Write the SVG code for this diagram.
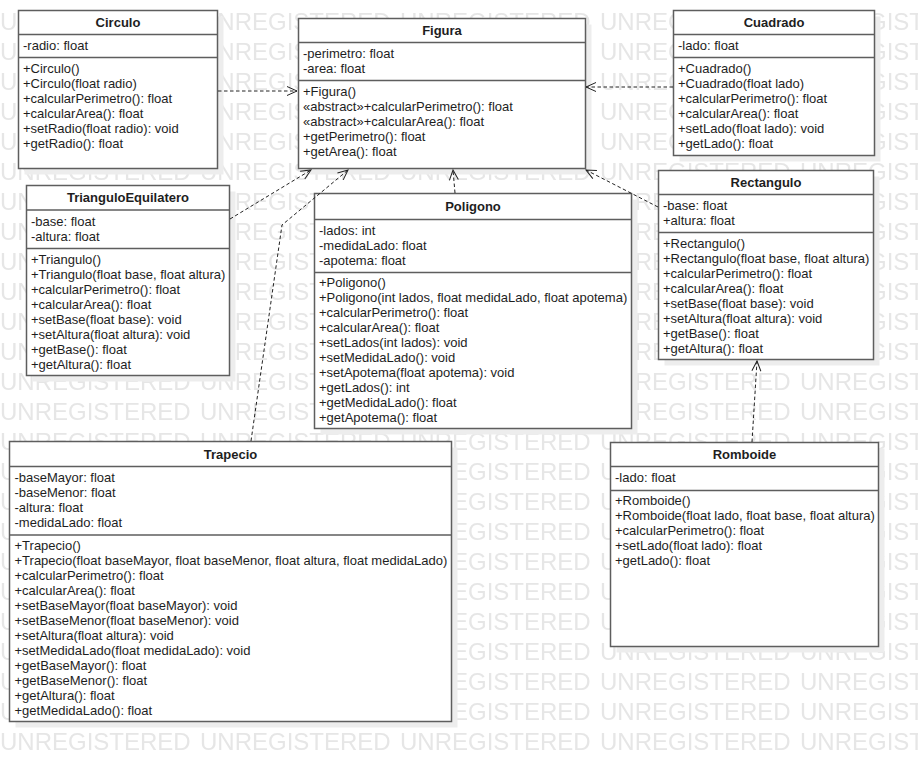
<svg xmlns="http://www.w3.org/2000/svg" width="918" height="762" viewBox="0 0 918 762">
<style>
.wm{font-family:"Liberation Sans",Arial,sans-serif;font-size:24px;fill:#e6e6e6}
.sh{fill:#ededed}
.box{fill:#fff;stroke:#5e5e5e;stroke-width:1.5}
.dv{stroke:#5e5e5e;stroke-width:1.5}
.t{font-family:"Liberation Sans",Arial,sans-serif;font-size:13px;fill:#1e1e1e}
.h{font-weight:bold;text-anchor:middle}
.c{fill:none;stroke:#222;stroke-width:1;stroke-dasharray:3.5 2.5}
</style>
<defs>
<pattern id="wmp" patternUnits="userSpaceOnUse" x="0" y="0" width="200" height="30">
<text class="wm" x="0" y="30">UNREGISTERED</text>
</pattern>
<marker id="arr" markerUnits="userSpaceOnUse" markerWidth="14" markerHeight="12" refX="10" refY="4.5" orient="auto" overflow="visible">
<path d="M0,0 L10,4.5 L0,9" fill="none" stroke="#222" stroke-width="1" stroke-dasharray="none"/>
</marker>
</defs>
<rect x="0" y="0" width="918" height="762" fill="#fff"/>
<rect x="0" y="0" width="918" height="762" fill="url(#wmp)"/>

<g id="Circulo">
<rect class="sh" x="24.5" y="16.5" width="199" height="158"/>
<rect class="box" x="18.5" y="10.5" width="199" height="158"/>
<line class="dv" x1="18.5" y1="34.5" x2="217.5" y2="34.5"/>
<line class="dv" x1="18.5" y1="57.5" x2="217.5" y2="57.5"/>
<text class="t h" x="118" y="27">Circulo</text>
<text class="t" x="23" y="50">-radio: float</text>
<text class="t"><tspan x="23" y="73">+Circulo()</tspan><tspan x="23" dy="15">+Circulo(float radio)</tspan><tspan x="23" dy="15">+calcularPerimetro(): float</tspan><tspan x="23" dy="15">+calcularArea(): float</tspan><tspan x="23" dy="15">+setRadio(float radio): void</tspan><tspan x="23" dy="15">+getRadio(): float</tspan></text>
</g>

<g id="Figura">
<rect class="sh" x="304.5" y="24.5" width="287" height="150"/>
<rect class="box" x="298.5" y="18.5" width="287" height="150"/>
<line class="dv" x1="298.5" y1="42.5" x2="585.5" y2="42.5"/>
<line class="dv" x1="298.5" y1="80.5" x2="585.5" y2="80.5"/>
<text class="t h" x="442" y="35">Figura</text>
<text class="t"><tspan x="303" y="58">-perimetro: float</tspan><tspan x="303" dy="15">-area: float</tspan></text>
<text class="t"><tspan x="303" y="96">+Figura()</tspan><tspan x="303" dy="15">«abstract»+calcularPerimetro(): float</tspan><tspan x="303" dy="15">«abstract»+calcularArea(): float</tspan><tspan x="303" dy="15">+getPerimetro(): float</tspan><tspan x="303" dy="15">+getArea(): float</tspan></text>
</g>

<g id="Cuadrado">
<rect class="sh" x="679.5" y="16.5" width="201" height="145"/>
<rect class="box" x="673.5" y="10.5" width="201" height="145"/>
<line class="dv" x1="673.5" y1="34.5" x2="874.5" y2="34.5"/>
<line class="dv" x1="673.5" y1="57.5" x2="874.5" y2="57.5"/>
<text class="t h" x="774" y="27">Cuadrado</text>
<text class="t" x="678" y="50">-lado: float</text>
<text class="t"><tspan x="678" y="73">+Cuadrado()</tspan><tspan x="678" dy="15">+Cuadrado(float lado)</tspan><tspan x="678" dy="15">+calcularPerimetro(): float</tspan><tspan x="678" dy="15">+calcularArea(): float</tspan><tspan x="678" dy="15">+setLado(float lado): void</tspan><tspan x="678" dy="15">+getLado(): float</tspan></text>
</g>

<g id="Rectangulo">
<rect class="sh" x="664.5" y="176.5" width="215" height="189"/>
<rect class="box" x="658.5" y="170.5" width="215" height="189"/>
<line class="dv" x1="658.5" y1="194.5" x2="873.5" y2="194.5"/>
<line class="dv" x1="658.5" y1="232.5" x2="873.5" y2="232.5"/>
<text class="t h" x="766" y="187">Rectangulo</text>
<text class="t"><tspan x="663" y="210">-base: float</tspan><tspan x="663" dy="15">+altura: float</tspan></text>
<text class="t"><tspan x="663" y="248">+Rectangulo()</tspan><tspan x="663" dy="15">+Rectangulo(float base, float altura)</tspan><tspan x="663" dy="15">+calcularPerimetro(): float</tspan><tspan x="663" dy="15">+calcularArea(): float</tspan><tspan x="663" dy="15">+setBase(float base): void</tspan><tspan x="663" dy="15">+setAltura(float altura): void</tspan><tspan x="663" dy="15">+getBase(): float</tspan><tspan x="663" dy="15">+getAltura(): float</tspan></text>
</g>

<g id="TrianguloEquilatero">
<rect class="sh" x="32.5" y="191.5" width="203" height="190"/>
<rect class="box" x="26.5" y="185.5" width="203" height="190"/>
<line class="dv" x1="26.5" y1="210" x2="229.5" y2="210"/>
<line class="dv" x1="26.5" y1="248.5" x2="229.5" y2="248.5"/>
<text class="t h" x="128" y="202">TrianguloEquilatero</text>
<text class="t"><tspan x="31" y="226">-base: float</tspan><tspan x="31" dy="15">-altura: float</tspan></text>
<text class="t"><tspan x="31" y="264">+Triangulo()</tspan><tspan x="31" dy="15">+Triangulo(float base, float altura)</tspan><tspan x="31" dy="15">+calcularPerimetro(): float</tspan><tspan x="31" dy="15">+calcularArea(): float</tspan><tspan x="31" dy="15">+setBase(float base): void</tspan><tspan x="31" dy="15">+setAltura(float altura): void</tspan><tspan x="31" dy="15">+getBase(): float</tspan><tspan x="31" dy="15">+getAltura(): float</tspan></text>
</g>

<g id="Poligono">
<rect class="sh" x="320.5" y="199.5" width="317" height="235"/>
<rect class="box" x="314.5" y="193.5" width="317" height="235"/>
<line class="dv" x1="314.5" y1="219.5" x2="631.5" y2="219.5"/>
<line class="dv" x1="314.5" y1="272.5" x2="631.5" y2="272.5"/>
<text class="t h" x="473" y="211">Poligono</text>
<text class="t"><tspan x="319" y="234.5">-lados: int</tspan><tspan x="319" dy="15">-medidaLado: float</tspan><tspan x="319" dy="15">-apotema: float</tspan></text>
<text class="t"><tspan x="319" y="287">+Poligono()</tspan><tspan x="319" dy="15">+Poligono(int lados, float medidaLado, float apotema)</tspan><tspan x="319" dy="15">+calcularPerimetro(): float</tspan><tspan x="319" dy="15">+calcularArea(): float</tspan><tspan x="319" dy="15">+setLados(int lados): void</tspan><tspan x="319" dy="15">+setMedidaLado(): void</tspan><tspan x="319" dy="15">+setApotema(float apotema): void</tspan><tspan x="319" dy="15">+getLados(): int</tspan><tspan x="319" dy="15">+getMedidaLado(): float</tspan><tspan x="319" dy="15">+getApotema(): float</tspan></text>
</g>

<g id="Trapecio">
<rect class="sh" x="15.5" y="447.5" width="442" height="280"/>
<rect class="box" x="9.5" y="441.5" width="442" height="280"/>
<line class="dv" x1="9.5" y1="466.5" x2="451.5" y2="466.5"/>
<line class="dv" x1="9.5" y1="535" x2="451.5" y2="535"/>
<text class="t h" x="230.5" y="459">Trapecio</text>
<text class="t"><tspan x="14.5" y="482">-baseMayor: float</tspan><tspan x="14.5" dy="15">-baseMenor: float</tspan><tspan x="14.5" dy="15">-altura: float</tspan><tspan x="14.5" dy="15">-medidaLado: float</tspan></text>
<text class="t"><tspan x="14.5" y="550">+Trapecio()</tspan><tspan x="14.5" dy="15">+Trapecio(float baseMayor, float baseMenor, float altura, float medidaLado)</tspan><tspan x="14.5" dy="15">+calcularPerimetro(): float</tspan><tspan x="14.5" dy="15">+calcularArea(): float</tspan><tspan x="14.5" dy="15">+setBaseMayor(float baseMayor): void</tspan><tspan x="14.5" dy="15">+setBaseMenor(float baseMenor): void</tspan><tspan x="14.5" dy="15">+setAltura(float altura): void</tspan><tspan x="14.5" dy="15">+setMedidaLado(float medidaLado): void</tspan><tspan x="14.5" dy="15">+getBaseMayor(): float</tspan><tspan x="14.5" dy="15">+getBaseMenor(): float</tspan><tspan x="14.5" dy="15">+getAltura(): float</tspan><tspan x="14.5" dy="15">+getMedidaLado(): float</tspan></text>
</g>

<g id="Romboide">
<rect class="sh" x="616.5" y="448.5" width="268" height="204"/>
<rect class="box" x="610.5" y="442.5" width="268" height="204"/>
<line class="dv" x1="610.5" y1="466.5" x2="878.5" y2="466.5"/>
<line class="dv" x1="610.5" y1="490.5" x2="878.5" y2="490.5"/>
<text class="t h" x="744.5" y="459">Romboide</text>
<text class="t" x="615" y="482">-lado: float</text>
<text class="t"><tspan x="615" y="505">+Romboide()</tspan><tspan x="615" dy="15">+Romboide(float lado, float base, float altura)</tspan><tspan x="615" dy="15">+calcularPerimetro(): float</tspan><tspan x="615" dy="15">+setLado(float lado): float</tspan><tspan x="615" dy="15">+getLado(): float</tspan></text>
</g>

<g id="connectors">
<path class="c" marker-end="url(#arr)" d="M218,91 L297,91"/>
<path class="c" marker-end="url(#arr)" d="M673,87 L586,87"/>
<path class="c" marker-end="url(#arr)" d="M230,219 L311,170"/>
<path class="c" marker-end="url(#arr)" d="M251,441 L282,225 L348,170"/>
<path class="c" marker-end="url(#arr)" d="M455,193 L453,170"/>
<path class="c" marker-end="url(#arr)" d="M658,207 L586,170"/>
<path class="c" marker-end="url(#arr)" d="M752,442 L757,361"/>
</g>
</svg>
